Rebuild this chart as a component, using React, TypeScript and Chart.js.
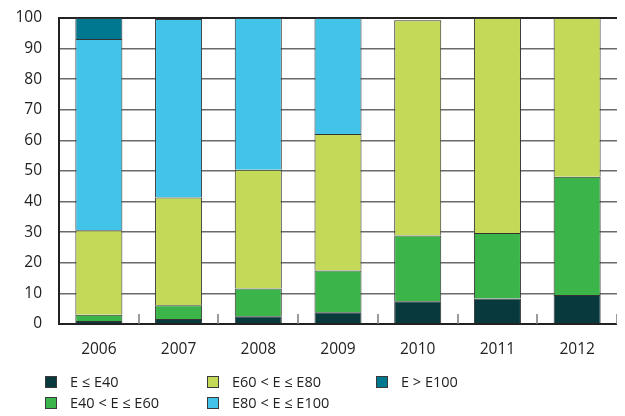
import React, { useEffect, useRef } from "react";
import { Chart, registerables } from "chart.js";

Chart.register(...registerables);

const years = ["2006", "2007", "2008", "2009", "2010", "2011", "2012"];
const seriesLabels = ["E ≤ E40", "E40 < E ≤ E60", "E60 < E ≤ E80", "E80 < E ≤ E100", "E > E100"];
const le40 = [1.0, 1.6, 2.5, 3.8, 7.4, 8.3, 9.5];
const e40to60 = [2.0, 4.5, 9.1, 13.7, 21.5, 21.4, 38.6];
const e60to80 = [27.6, 35.2, 38.8, 44.6, 70.4, 70.3, 51.9];
const e80to100 = [62.5, 58.4, 49.6, 37.9, null, null, null];
const gt100 = [6.9, null, null, null, null, null, null];
const yMin = 0;
const yMax = 100;
const yStep = 10;

const colors = ["#083a3d", "#3bb54a", "#c3d957", "#41c4e8", "#00788f"];
const FONT = "'Open Sans', 'DejaVu Sans', sans-serif";

// legend layout (column-major like the reference)
const legendSlots = [
  { x: 45, y: 382 },
  { x: 45, y: 403 },
  { x: 207, y: 382 },
  { x: 207, y: 403 },
  { x: 376, y: 382 },
];

const decorPlugin = {
  id: "decor",
  afterDatasetsDraw(chart: any) {
    const { ctx, chartArea, scales } = chart;
    const xs = scales.x;
    const ys = scales.y;
    const y0 = Math.round(ys.getPixelForValue(yMin));
    ctx.save();
    ctx.strokeStyle = "#222";
    ctx.lineWidth = 2;
    ctx.beginPath();
    ctx.moveTo(chartArea.left, y0);
    ctx.lineTo(chartArea.right, y0);
    ctx.stroke();
    ctx.strokeStyle = "#7a7a7a";
    ctx.lineWidth = 1.5;
    const half = (xs.getPixelForValue(1) - xs.getPixelForValue(0)) / 2;
    for (let i = 0; i < years.length; i++) {
      const x = Math.round(xs.getPixelForValue(i) + half);
      ctx.beginPath();
      ctx.moveTo(x, y0);
      ctx.lineTo(x, y0 - 10);
      ctx.stroke();
    }
    ctx.restore();
  },
  afterDraw(chart: any) {
    const { ctx } = chart;
    ctx.save();
    ctx.fillStyle = "#eef3d6";
    ctx.fillRect(0, 0, 3, chart.height);
    chart.data.datasets.forEach((ds: any, i: number) => {
      const slot = legendSlots[i];
      ctx.fillStyle = "#3a3a3a";
      ctx.fillRect(slot.x, slot.y - 6, 12, 12);
      ctx.fillStyle = ds.backgroundColor;
      ctx.fillRect(slot.x + 1, slot.y - 5, 10, 10);
      ctx.fillStyle = "#222";
      ctx.font = `14.5px ${FONT}`;
      ctx.textBaseline = "middle";
      ctx.textAlign = "left";
      ctx.fillText(ds.label, slot.x + 25, slot.y + 1);
    });
    ctx.restore();
  },
};

export default function App() {
  const ref = useRef<HTMLCanvasElement>(null);
  useEffect(() => {
    const data = [le40, e40to60, e60to80, e80to100, gt100];
    const chart = new Chart(ref.current!, {
      type: "bar",
      data: {
        labels: years,
        datasets: data.map((d, i) => ({
          label: seriesLabels[i],
          data: d,
          backgroundColor: colors[i],
          borderColor: "#333",
          borderWidth: 1,
          categoryPercentage: 1,
          barPercentage: 0.59,
        })),
      },
      options: {
        animation: false,
        responsive: false,
        layout: { padding: { top: 18, right: 8, left: 0, bottom: 0 } },
        plugins: { legend: { display: false }, tooltip: { enabled: false } },
        scales: {
          x: {
            stacked: true,
            grid: { display: false },
            border: { display: false },
            ticks: { color: "#222", font: { family: FONT, size: 15.5 }, padding: 8, maxRotation: 0 },
            afterFit: (s: any) => {
              s.height = 92;
              s.paddingLeft = 0;
              s.paddingRight = 0;
            },
          },
          y: {
            stacked: true,
            min: yMin,
            max: yMax,
            grid: {
              drawTicks: false,
              color: (c: any) => (c.tick && (c.tick.value === yMax || c.tick.value === yMin) ? "#222" : "#6a6a6a"),
              lineWidth: (c: any) => (c.tick && (c.tick.value === yMax || c.tick.value === yMin) ? 2 : 1.6),
            },
            border: { display: true, color: "#222", width: 2 },
            ticks: { stepSize: yStep, color: "#222", font: { family: FONT, size: 15.5 }, padding: 17 },
            afterFit: (s: any) => {
              s.width = 59;
              s.paddingTop = 0;
              s.paddingBottom = 0;
            },
          },
        },
      },
      plugins: [decorPlugin],
    });
    return () => chart.destroy();
  }, []);
  return (
    <canvas
      ref={ref}
      width={625}
      height={416}
      style={{ display: "block", marginLeft: -8, marginTop: -8, background: "#fff" }}
    />
  );
}
